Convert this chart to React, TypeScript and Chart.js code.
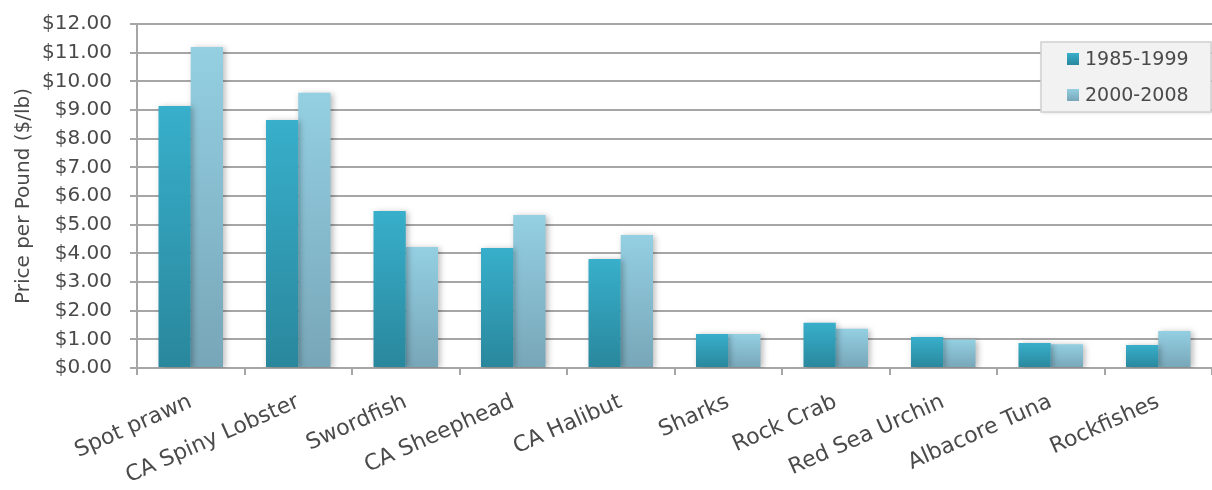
import React, { useEffect, useRef } from "react";
import { Chart, registerables } from "chart.js";

Chart.register(...registerables);

const categories = [
  "Spot prawn",
  "CA Spiny Lobster",
  "Swordfish",
  "CA Sheephead",
  "CA Halibut",
  "Sharks",
  "Rock Crab",
  "Red Sea Urchin",
  "Albacore Tuna",
  "Rockfishes",
];
const series1985 = [9.14, 8.65, 5.48, 4.19, 3.8, 1.19, 1.58, 1.08, 0.87, 0.8];
const series2000 = [11.2, 9.6, 4.22, 5.34, 4.64, 1.19, 1.37, 0.99, 0.83, 1.29];
const seriesLabels = ["1985-1999", "2000-2008"];
const yTicks = [0, 1, 2, 3, 4, 5, 6, 7, 8, 9, 10, 11, 12];

const FONT = "'DejaVu Sans', sans-serif";
const TEXT = "#4a4a4a";
const GRID = "#a6a6a6";
const COLORS = [
  { top: "#38afcb", bottom: "#29879c" },
  { top: "#94cfe2", bottom: "#77a6b8" },
];

function barGradient(idx: number) {
  return (ctx: any) => {
    const chart = ctx.chart;
    const y = chart.scales && chart.scales.y;
    if (!chart.chartArea || !y || ctx.type !== "data") return COLORS[idx].top;
    const yTop = y.getPixelForValue(ctx.raw);
    const yBot = y.getPixelForValue(0);
    if (!isFinite(yTop) || !isFinite(yBot) || yTop === yBot) return COLORS[idx].top;
    const g = chart.ctx.createLinearGradient(0, yTop, 0, yBot);
    g.addColorStop(0, COLORS[idx].top);
    g.addColorStop(1, COLORS[idx].bottom);
    return g;
  };
}

const shadowPlugin = {
  id: "barShadow",
  beforeDatasetsDraw(chart: any) {
    const c = chart.ctx;
    c.save();
    c.shadowColor = "rgba(0,0,0,0.28)";
    c.shadowBlur = 6;
    c.shadowOffsetX = 2;
    c.shadowOffsetY = 1;
  },
  afterDatasetsDraw(chart: any) {
    chart.ctx.restore();
  },
};

const legendPlugin = {
  id: "boxLegend",
  afterDraw(chart: any) {
    const c = chart.ctx;
    const x = 1041,
      y = 42,
      w = 170,
      h = 70;
    c.save();
    c.shadowColor = "rgba(0,0,0,0.15)";
    c.shadowBlur = 3;
    c.shadowOffsetX = 1;
    c.shadowOffsetY = 1;
    c.fillStyle = "#f2f2f2";
    c.fillRect(x, y, w, h);
    c.shadowColor = "transparent";
    c.strokeStyle = "#d0d0d0";
    c.lineWidth = 1.5;
    c.strokeRect(x, y, w, h);
    seriesLabels.forEach((lab, i) => {
      const sy = 53 + i * 36;
      const g = c.createLinearGradient(0, sy, 0, sy + 12);
      g.addColorStop(0, COLORS[i].top);
      g.addColorStop(1, COLORS[i].bottom);
      c.fillStyle = g;
      c.fillRect(1067, sy, 12, 12);
      c.fillStyle = TEXT;
      c.font = `19px ${FONT}`;
      c.textBaseline = "middle";
      c.textAlign = "left";
      c.fillText(lab, 1085, sy + 7);
    });
    c.restore();
  },
};

export default function App() {
  const ref = useRef<HTMLCanvasElement>(null);
  useEffect(() => {
    if (!ref.current) return;
    const chart = new Chart(ref.current, {
      type: "bar",
      data: {
        labels: categories,
        datasets: [
          {
            label: seriesLabels[0],
            data: series1985,
            backgroundColor: barGradient(0) as any,
            borderWidth: 0,
            categoryPercentage: 0.6,
            barPercentage: 1.0,
          },
          {
            label: seriesLabels[1],
            data: series2000,
            backgroundColor: barGradient(1) as any,
            borderWidth: 0,
            categoryPercentage: 0.6,
            barPercentage: 1.0,
          },
        ],
      },
      options: {
        responsive: false,
        animation: false,
        layout: { padding: { top: 24, right: 0, bottom: 0, left: 0 } },
        plugins: {
          legend: { display: false },
          tooltip: { enabled: false },
        },
        scales: {
          x: {
            grid: {
              offset: true,
              drawOnChartArea: false,
              drawTicks: true,
              tickLength: 7,
              color: GRID,
              lineWidth: 2,
            },
            border: { color: GRID, width: 2 },
            ticks: {
              color: TEXT,
              font: { family: FONT, size: 22 },
              minRotation: 24,
              maxRotation: 24,
              padding: 14,
              autoSkip: false,
            },
            afterFit(s: any) {
              s.height = 122;
              s.paddingLeft = 0;
              s.paddingRight = 0;
            },
          },
          y: {
            min: 0,
            max: 12,
            afterBuildTicks(s: any) {
              s.ticks = yTicks.map((v) => ({ value: v }));
            },
            grid: {
              color: GRID,
              lineWidth: 2,
              tickLength: 7,
            },
            border: { color: GRID, width: 2 },
            ticks: {
              color: TEXT,
              font: { family: FONT, size: 20 },
              padding: 18,
              callback: (v: any) => "$" + Number(v).toFixed(2),
            },
            title: {
              display: true,
              text: "Price per Pound ($/lb)",
              color: TEXT,
              font: { family: FONT, size: 20 },
              padding: { top: 12, bottom: 0 },
            },
            afterFit(s: any) {
              s.width = 137;
              s.paddingTop = 0;
              s.paddingBottom = 0;
            },
          },
        },
      },
      plugins: [shadowPlugin, legendPlugin],
    });
    return () => chart.destroy();
  }, []);
  return (
    <div
      style={{
        position: "fixed",
        left: 0,
        top: 0,
        width: 1212,
        height: 490,
        background: "#fff",
      }}
    >
      <canvas ref={ref} width={1212} height={490} />
    </div>
  );
}
